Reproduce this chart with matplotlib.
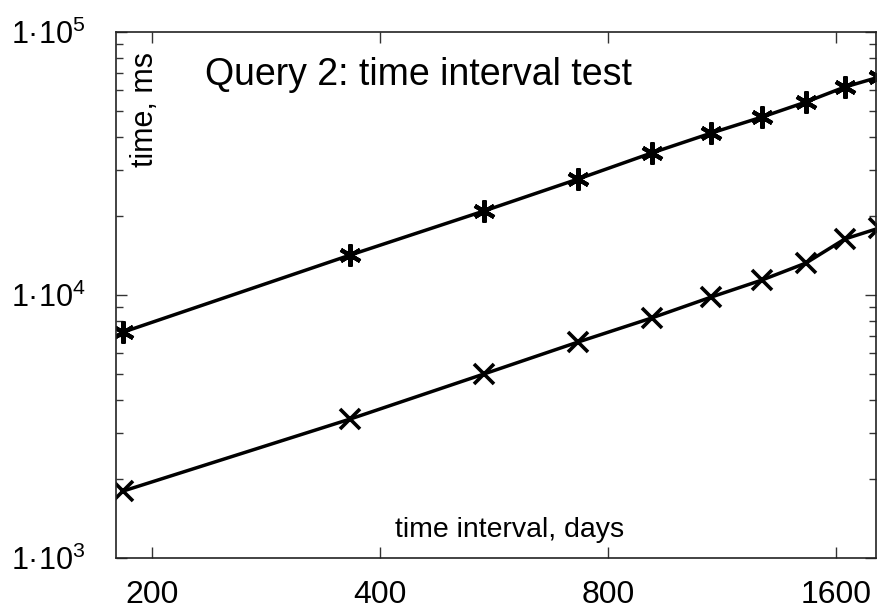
import matplotlib
matplotlib.use("Agg")
import math
import matplotlib.pyplot as plt
from matplotlib.ticker import FixedLocator, FixedFormatter, LogLocator, NullLocator, FuncFormatter

# dados
dias = [183, 365, 548, 730, 913, 1095, 1278, 1460, 1643, 1825]
tempo_sup = [7230, 14190, 20860, 27610, 34670, 41300, 47530, 54180, 61780, 67440]
tempo_inf = [1798, 3377, 5007, 6626, 8177, 9826, 11410, 13230, 16330, 17980]

x_ticks = [200, 400, 800, 1600]
x_labels = ["200", "400", "800", "1600"]
y_ticks = [1e3, 1e4, 1e5]

plt.rcParams["font.family"] = ["Liberation Sans", "DejaVu Sans"]
plt.rcParams["mathtext.fontset"] = "custom"
plt.rcParams["mathtext.rm"] = "Liberation Sans"
plt.rcParams["mathtext.it"] = "Liberation Sans"
plt.rcParams["mathtext.default"] = "regular"

fig = plt.figure(figsize=(8.8, 6.11), dpi=100)
ax = fig.add_axes([0.1318, 0.0867, 0.8637, 0.8609])

ax.plot(dias, tempo_sup, color="black", lw=2.5, marker=(6, 2, 0), ms=16, mew=3.0)
ax.plot(dias, tempo_inf, color="black", lw=2.5, marker="x", ms=14, mew=2.6)

ax.set_xscale("log")
ax.set_yscale("log")
ax.set_xlim(179, 1807)
ax.set_ylim(1e3, 1e5)

ax.xaxis.set_major_locator(FixedLocator(x_ticks))
ax.xaxis.set_major_formatter(FixedFormatter(x_labels))
ax.xaxis.set_minor_locator(NullLocator())
ax.yaxis.set_major_locator(FixedLocator(y_ticks))
ax.yaxis.set_major_formatter(FuncFormatter(lambda v, p: "1·10$^{%d}$" % round(math.log10(v))))
ax.yaxis.set_minor_locator(LogLocator(base=10, subs=range(2, 10)))

ax.tick_params(which="both", direction="in", top=True, right=True, color="#333333", width=1)
ax.tick_params(which="major", length=8)
ax.tick_params(which="minor", length=5)
ax.tick_params(axis="x", pad=16, labelsize=23)
ax.tick_params(axis="y", pad=22, labelsize=22)
for s in ax.spines.values():
    s.set_linewidth(1.2)
    s.set_color("#222222")

ax.text(0.117, 0.918, "Query 2: time interval test", transform=ax.transAxes,
        fontsize=27, ha="left", va="center")
ax.text(0.038, 0.853, "time, ms", transform=ax.transAxes, rotation=90,
        fontsize=22, ha="center", va="center")
ax.text(0.518, 0.053, "time interval, days", transform=ax.transAxes,
        fontsize=20.5, ha="center", va="center")

plt.savefig("out.png", dpi=100)
plt.close()
